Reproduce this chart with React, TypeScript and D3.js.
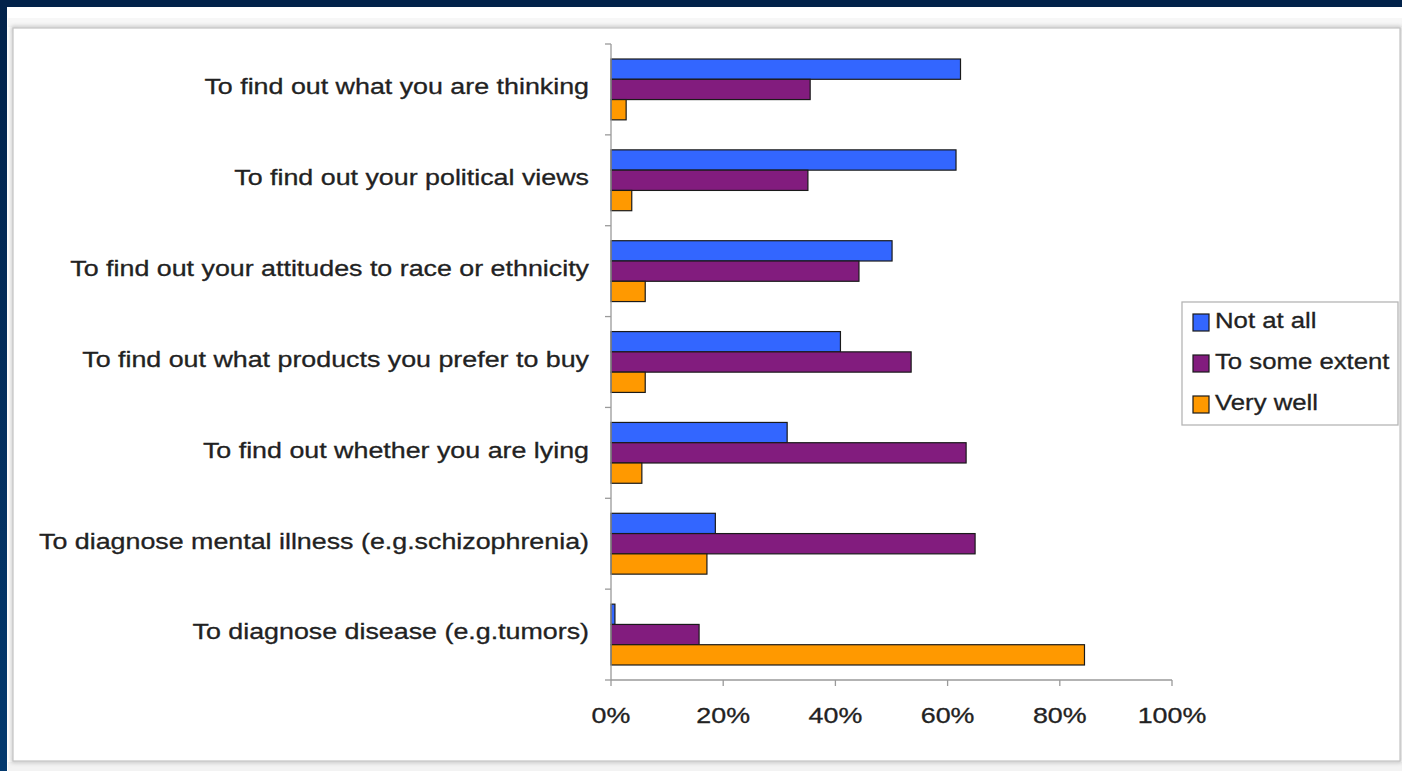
import React from "react";
import * as d3 from "d3";

const categories = [
  "To find out what you are thinking",
  "To find out your political views",
  "To find out your attitudes to race or ethnicity",
  "To find out what products you prefer to buy",
  "To find out whether you are lying",
  "To diagnose mental illness (e.g.schizophrenia)",
  "To diagnose disease (e.g.tumors)",
];
const seriesNames = ["Not at all", "To some extent", "Very well"];
const notAtAll = [62.3, 61.5, 50.1, 40.9, 31.4, 18.6, 0.7];
const someExtent = [35.5, 35.1, 44.2, 53.5, 63.3, 64.9, 15.7];
const veryWell = [2.7, 3.7, 6.1, 6.1, 5.5, 17.1, 84.4];
const xTicks = [0, 20, 40, 60, 80, 100];
const colors = ["#3366ff", "#821c7e", "#ff9900"];

const W = 1402;
const H = 771;
const FONT = "'Liberation Sans', Arial, sans-serif";
const FS = 22;

function T({ x, y, anchor = "start", sx = 1.22, children }: { x: number; y: number; anchor?: string; sx?: number; children: React.ReactNode }) {
  return (
    <text
      transform={`translate(${x},${y}) scale(${sx},1)`}
      textAnchor={anchor}
      dominantBaseline="middle"
      fontSize={FS}
      fill="#222"
      stroke="#222"
      strokeWidth={0.3}
    >
      {children}
    </text>
  );
}

export default function App() {
  const series = [notAtAll, someExtent, veryWell];
  const x = d3.scaleLinear().domain([0, 100]).range([611, 1172]);
  const y = d3.scaleBand<string>().domain(categories).range([44, 680]);
  const inner = d3
    .scaleBand<number>()
    .domain([0, 1, 2])
    .range([0, y.bandwidth()])
    .paddingOuter(0.74)
    .paddingInner(0);
  const y0 = 680;

  return (
    <svg
      width={W}
      height={H}
      style={{ position: "absolute", left: 0, top: 0, display: "block" }}
      fontFamily={FONT}
    >
      <defs>
        <linearGradient id="leftband" x1="0" y1="0" x2="0" y2="1">
          <stop offset="0" stopColor="#02224a" />
          <stop offset="1" stopColor="#03396e" />
        </linearGradient>
        <filter id="sh" x="-2%" y="-2%" width="104%" height="104%">
          <feGaussianBlur stdDeviation="2" />
        </filter>
      </defs>
      <rect x={0} y={0} width={W} height={H} fill="#ffffff" />
      <rect x={8} y={18} width={W - 8} height={9} fill="#f7f7f7" />
      <rect x={8} y={762} width={W - 8} height={H - 762} fill="#f3f3f3" />
      <rect
        x={13}
        y={28}
        width={1387}
        height={733}
        fill="none"
        stroke="#b8b8b8"
        strokeWidth={3}
        filter="url(#sh)"
      />
      <rect x={13} y={28} width={1387} height={733} fill="#ffffff" stroke="#c4c4c4" strokeWidth={1.2} />
      <rect x={0} y={0} width={W} height={7} fill="#02224a" />
      <rect x={0} y={0} width={7} height={H} fill="url(#leftband)" />

      {/* bars */}
      {categories.map((c, i) => (
        <g key={c}>
          {series.map((s, k) => (
            <rect
              key={k}
              x={x(0)}
              y={(y(c) as number) + (inner(k) as number)}
              width={x(s[i]) - x(0)}
              height={inner.bandwidth()}
              fill={colors[k]}
              stroke="#1a1a1a"
              strokeWidth={1.2}
            />
          ))}
          <T x={589} y={(y(c) as number) + y.bandwidth() / 2 - 1} anchor="end">
            {c}
          </T>
        </g>
      ))}

      {/* y axis */}
      <line x1={x(0)} x2={x(0)} y1={44} y2={y0} stroke="#9a9a9a" strokeWidth={1.3} />
      {[...categories.map((c) => y(c) as number), y0].map((t, i) => (
        <line key={i} x1={x(0) - 6} x2={x(0)} y1={t} y2={t} stroke="#9a9a9a" strokeWidth={1.3} />
      ))}

      {/* x axis */}
      <line x1={x(0)} x2={x(100)} y1={y0} y2={y0} stroke="#9a9a9a" strokeWidth={1.3} />
      {xTicks.map((t) => (
        <g key={t}>
          <line x1={x(t)} x2={x(t)} y1={y0} y2={y0 + 6} stroke="#9a9a9a" strokeWidth={1.3} />
          <T x={x(t)} y={717} anchor="middle">
            {t}%
          </T>
        </g>
      ))}

      {/* legend */}
      <rect x={1182} y={302} width={216} height={123} fill="#fff" stroke="#b5b5b5" strokeWidth={1.3} />
      {seriesNames.map((n, k) => (
        <g key={n}>
          <rect
            x={1193}
            y={314 + k * 41}
            width={16}
            height={17}
            fill={colors[k]}
            stroke="#1a1a1a"
            strokeWidth={1.2}
          />
          <T x={1215} y={322 + k * 41} sx={1.17}>
            {n}
          </T>
        </g>
      ))}
    </svg>
  );
}
